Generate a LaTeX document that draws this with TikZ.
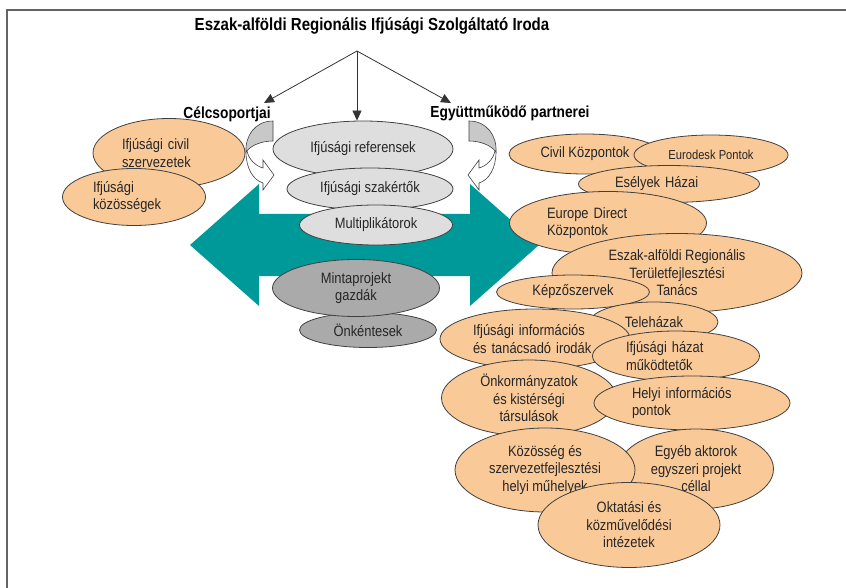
\documentclass[tikz,border=0pt]{standalone}
\usepackage{fontspec}
\setmainfont{Liberation Sans}[FakeStretch=0.86]
\usepackage{xcolor}
\usetikzlibrary{shapes.geometric, arrows.meta, positioning, calc}

\definecolor{partnerorange}{RGB}{250,201,152}
\definecolor{ovallight}{RGB}{222,222,222}
\definecolor{ovaldark}{RGB}{170,170,170}
\definecolor{bandteal}{RGB}{0,153,153}
\definecolor{outlinegray}{RGB}{64,64,64}
\definecolor{curvgray}{RGB}{200,200,200}
\definecolor{framegray}{RGB}{100,100,100}

% curved arrow beside the heading labels (left version)
\newcommand{\curvedarr}{%
  \filldraw[fill=curvgray, draw=outlinegray, line width=0.6pt]
    (273,121) -- (273,141) .. controls (262,141) and (251,145) .. (246,152)
    .. controls (245,136) and (255,121) .. (273,121) -- cycle;
  \filldraw[fill=white, draw=outlinegray, line width=0.6pt]
    (246,152) .. controls (246,168) and (253,180) .. (263,183)
    -- (263,190) -- (274,175) -- (263,160) -- (263,168)
    .. controls (256,166) and (249,160) .. (247,151) -- cycle;
}

\begin{document}
\begin{tikzpicture}[x=1pt, y=-1pt,
  oval/.style={ellipse, draw=outlinegray, line width=0.8pt, inner sep=0pt,
    text=black!85, font=\fontsize{15}{17.5}\selectfont, align=center},
  orangeoval/.style={oval, fill=partnerorange},
  lightoval/.style={oval, fill=ovallight},
  darkoval/.style={oval, fill=ovaldark},
  headlbl/.style={font=\fontsize{16}{19}\selectfont\bfseries},
  pointer/.style={draw=black!80, line width=0.8pt, -{Triangle[length=10pt, width=9pt]}}]
\useasboundingbox (0,0) rectangle (846,588);
% frame
\draw[framegray, line width=2pt] (7,588) -- (7,10) -- (846,10);

% heading and the three pointers
\node[font=\fontsize{17.5}{21}\selectfont\bfseries] (title) at (372,26) {Eszak-alföldi Regionális Ifjúsági Szolgáltató Iroda};
\coordinate (apex) at (357,51);
\coordinate (tipL) at (264,103);
\coordinate (tipR) at (451,103);
\node[headlbl] (celcs) at (227,114) {Célcsoportjai};
\node[headlbl] (partn) at (510,113) {Együttműködő partnerei};

% teal double arrow
\fill[bandteal] (190,245) -- (259,184) -- (259,214) -- (470,214) -- (470,184)
  -- (539,245) -- (470,306) -- (470,276) -- (259,276) -- (259,306) -- cycle;

% curved arrows
\curvedarr
\begin{scope}[xshift=742pt, xscale=-1]
  \curvedarr
\end{scope}

% target groups
\node[orangeoval, minimum width=152pt, minimum height=69pt, text width=94pt, align=left] (civsz) at (169,153) {Ifjúsági civil\\szervezetek};
\node[orangeoval, minimum width=143pt, minimum height=57pt, text width=82pt, align=left] (kozos) at (134,197) {Ifjúsági\\közösségek};

% middle column
\node[lightoval, minimum width=180pt, minimum height=56pt] (ref) at (363,149) {Ifjúsági referensek};
\node[lightoval, minimum width=166pt, minimum height=42pt] (szak) at (370,189) {Ifjúsági szakértők};
\node[lightoval, minimum width=153pt, minimum height=40pt] (multi) at (376,225) {Multiplikátorok};
\node[darkoval, minimum width=137pt, minimum height=35pt] (onk) at (368,330) {Önkéntesek};
\node[darkoval, minimum width=167pt, minimum height=57pt] (minta) at (356,288) {Mintaprojekt\\gazdák};

\draw[pointer] (apex) -- (tipL);
\draw[pointer] (apex) -- (apex |- ref.north);
\draw[pointer] (apex) -- (tipR);

% partners
\node[orangeoval, minimum width=152pt, minimum height=40pt] (civk) at (585,154) {Civil Központok};
\node[orangeoval, minimum width=154pt, minimum height=40pt, font=\fontsize{13}{15}\selectfont] (euro) at (711,155) {Eurodesk Pontok};
\node[orangeoval, minimum width=181pt, minimum height=37pt, text width=108pt, align=left] (esely) at (669,184) {Esélyek Házai};
\node[orangeoval, minimum width=197pt, minimum height=63pt, text width=122pt, align=left] (edirect) at (608,223) {Europe Direct\\Központok};
\node[orangeoval, minimum width=250pt, minimum height=79pt] (rtt) at (677,273) {Eszak-alföldi Regionális\\Területfejlesztési\\Tanács};
\node[orangeoval, minimum width=153pt, minimum height=34pt] (kepzo) at (573,292) {Képzőszervek};
\node[orangeoval, minimum width=128pt, minimum height=40pt] (tele) at (654,322) {Teleházak};
\node[orangeoval, minimum width=190pt, minimum height=60pt, text width=124pt, align=left] (infiroda) at (535,339) {Ifjúsági információs\\és tanácsadó irodák};
\node[orangeoval, minimum width=167pt, minimum height=50pt, text width=100pt, align=left] (hazat) at (676,356) {Ifjúsági házat\\működtetők};
\node[orangeoval, minimum width=175pt, minimum height=76pt] (onkorm) at (529,398) {Önkormányzatok\\és kistérségi\\társulások};
\node[orangeoval, minimum width=196pt, minimum height=54pt, text width=120pt, align=left] (helyi) at (692,403) {Helyi információs\\pontok};
\node[orangeoval, minimum width=155pt, minimum height=80pt] (egyeb) at (696,469) {Egyéb aktorok\\egyszeri projekt\\céllal};
\node[orangeoval, minimum width=180pt, minimum height=84pt] (kozoss) at (545,470) {Közösség és\\szervezetfejlesztési\\helyi műhelyek};
\node[orangeoval, minimum width=182pt, minimum height=85pt] (oktat) at (629,525) {Oktatási és\\közművelődési\\intézetek};
\end{tikzpicture}
\end{document}
